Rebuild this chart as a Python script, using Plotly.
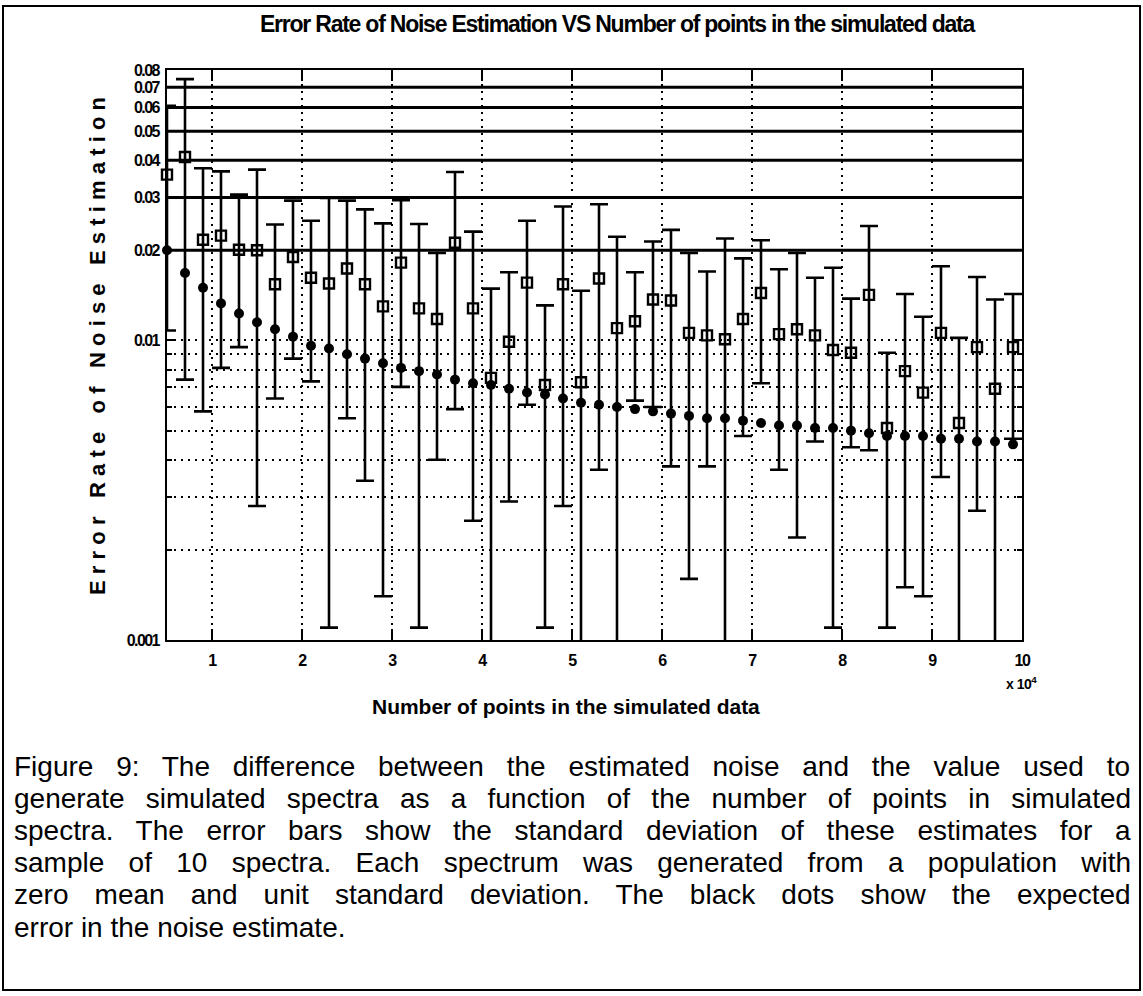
import math
import plotly.graph_objects as go

# ---------------- data ----------------
n_points = [5000, 7000, 9000, 11000, 13000, 15000, 17000, 19000, 21000, 23000,
            25000, 27000, 29000, 31000, 33000, 35000, 37000, 39000, 41000, 43000,
            45000, 47000, 49000, 51000, 53000, 55000, 57000, 59000, 61000, 63000,
            65000, 67000, 69000, 71000, 73000, 75000, 77000, 79000, 81000, 83000,
            85000, 87000, 89000, 91000, 93000, 95000, 97000, 99000]

mean_error = [0.0358, 0.0410, 0.0217, 0.0224, 0.0201, 0.0200, 0.0154, 0.0190, 0.0162, 0.0155,
              0.0174, 0.0154, 0.0130, 0.0182, 0.0128, 0.0118, 0.0212, 0.0128, 0.0075, 0.0099,
              0.0156, 0.0071, 0.0154, 0.00725, 0.0161, 0.0110, 0.0116, 0.0137, 0.0136, 0.0106,
              0.0104, 0.0101, 0.0118, 0.0144, 0.0105, 0.0109, 0.0104, 0.0093, 0.0091, 0.0142,
              0.0051, 0.0079, 0.0067, 0.0106, 0.0053, 0.0095, 0.0069, 0.0095]

std_error = [0.0250, 0.0336, 0.0159, 0.0143, 0.0106, 0.0172, 0.0090, 0.0103, 0.0089, 0.0144,
             0.0119, 0.0120, 0.0116, 0.0112, 0.0117, 0.0078, 0.0153, 0.0103, 0.0074, 0.0070,
             0.0095, 0.0060, 0.0126, 0.0074, 0.0124, 0.0112, 0.0053, 0.0077, 0.0098, 0.0090,
             0.0066, 0.0118, 0.0070, 0.0072, 0.0068, 0.0087, 0.0058, 0.0082, 0.0047, 0.0099,
             0.0040, 0.0064, 0.0053, 0.0071, 0.0049, 0.0068, 0.0068, 0.0048]

expected_error = [0.0200, 0.0168, 0.0150, 0.0133, 0.0123, 0.0115, 0.0109, 0.0103, 0.0096, 0.0094,
                  0.0090, 0.0087, 0.0084, 0.0081, 0.0079, 0.0077, 0.0074, 0.0072, 0.0071, 0.0069,
                  0.0067, 0.0066, 0.0064, 0.0062, 0.0061, 0.0060, 0.0059, 0.0058, 0.0057, 0.0056,
                  0.0055, 0.0055, 0.0054, 0.0053, 0.0052, 0.0052, 0.0051, 0.0051, 0.0050, 0.0049,
                  0.0048, 0.0048, 0.0048, 0.0047, 0.0047, 0.0046, 0.0046, 0.0045]

x_tick_vals = [10000, 20000, 30000, 40000, 50000, 60000, 70000, 80000, 90000, 100000]
x_tick_text = ["1", "2", "3", "4", "5", "6", "7", "8", "9", "10"]

y_tick_vals = [0.001, 0.01, 0.02, 0.03, 0.04, 0.05, 0.06, 0.07, 0.08]
y_tick_text = ["0.001", "0.01", "0.02", "0.03", "0.04", "0.05", "0.06", "0.07", "0.08"]
y_minor_vals = [0.002, 0.003, 0.004, 0.005, 0.006, 0.007, 0.008, 0.009]

solid_grid_vals = [0.02, 0.03, 0.04, 0.05, 0.06, 0.07]

title_text = "Error Rate of Noise Estimation VS Number of points in the simulated data"
x_title = "Number of points in the simulated data"
y_title = "Error Rate of Noise Estimation"
caption_lines = [
    "Figure 9: The difference between the estimated noise and the value used to",
    "generate simulated spectra as a function of the number of points in simulated",
    "spectra. The error bars show the standard deviation of these estimates for a",
    "sample of 10 spectra. Each spectrum was generated from a population with",
    "zero mean and unit standard deviation. The black dots show the expected",
    "error in the noise estimate.",
]

# ---------------- layout geometry ----------------
W, H = 1143, 996
ML, MR, MT, MB = 167, 121, 70, 356
PW = W - ML - MR
PH = H - MT - MB


def px(x):
    return (x - ML) / PW


def py(y):
    return (H - MB - y) / PH


ARIAL = "Liberation Sans, Arial, sans-serif"

# Arial / Liberation Sans advance widths (1/1000 em)
AW = {" ": 278, ".": 278, ",": 278, ":": 278, "-": 333}
AWB = {" ": 278, ".": 278, ",": 278, ":": 333, "-": 333}
for c in "0123456789":
    AW[c] = 556
    AWB[c] = 556
AW.update({"A": 667, "B": 667, "C": 722, "D": 722, "E": 667, "F": 611, "G": 778, "H": 722,
           "I": 278, "J": 500, "K": 667, "L": 556, "M": 833, "N": 722, "O": 778, "P": 667,
           "Q": 778, "R": 722, "S": 667, "T": 611, "U": 722, "V": 667, "W": 944, "X": 667,
           "Y": 667, "Z": 611,
           "a": 556, "b": 556, "c": 500, "d": 556, "e": 556, "f": 278, "g": 556, "h": 556,
           "i": 222, "j": 222, "k": 500, "l": 222, "m": 833, "n": 556, "o": 556, "p": 556,
           "q": 556, "r": 333, "s": 500, "t": 278, "u": 556, "v": 500, "w": 722, "x": 500,
           "y": 500, "z": 500})
AWB.update({"A": 722, "B": 722, "C": 722, "D": 722, "E": 667, "F": 611, "G": 778, "H": 722,
            "I": 278, "J": 556, "K": 722, "L": 611, "M": 833, "N": 722, "O": 778, "P": 667,
            "Q": 778, "R": 722, "S": 667, "T": 611, "U": 722, "V": 667, "W": 944, "X": 667,
            "Y": 667, "Z": 611,
            "a": 556, "b": 611, "c": 556, "d": 611, "e": 556, "f": 333, "g": 611, "h": 611,
            "i": 278, "j": 278, "k": 556, "l": 278, "m": 889, "n": 611, "o": 611, "p": 611,
            "q": 611, "r": 389, "s": 556, "t": 333, "u": 611, "v": 556, "w": 778, "x": 556,
            "y": 556, "z": 500})


def fit_bold(text, fs, target):
    """letter-spacing so that bold Liberation Sans text spans `target` px."""
    nat = sum(AWB.get(c, 600) for c in text) * fs / 1000
    ls = (target - nat) / max(len(text) - 1, 1)
    return '<span style="letter-spacing:%.2fpx">%s</span>' % (ls, text)


def squeeze(text, ls):
    return '<span style="letter-spacing:%.2fpx">%s</span>' % (ls, text)


CAP_FS = 28
CAP_LEFT = 12
CAP_RIGHT = 1129
CAP_Y0 = 766
CAP_DY = 32.2

fig = go.Figure()

# solid (scanned-looking) grid lines at 0.02 ... 0.07
gx, gy = [], []
for v in solid_grid_vals:
    gx += [n_points[0], x_tick_vals[-1], None]
    gy += [v, v, None]
fig.add_trace(go.Scatter(x=gx, y=gy, mode="lines", line=dict(color="black", width=3),
                         hoverinfo="skip", showlegend=False))

# error bars (clipped by the axes)
fig.add_trace(go.Scatter(
    x=n_points, y=mean_error, mode="markers",
    marker=dict(size=1, color="rgba(0,0,0,0)"),
    error_y=dict(type="data", array=std_error, symmetric=True,
                 color="black", thickness=2.6, width=9),
    showlegend=False))

# markers on an overlaying subplot so they are not clipped at the axes edge
fig.add_trace(go.Scatter(
    x=n_points, y=mean_error, mode="markers", xaxis="x2", yaxis="y2",
    marker=dict(symbol="square-open", size=10, color="black", line=dict(width=2.4, color="black")),
    cliponaxis=False, showlegend=False))
fig.add_trace(go.Scatter(
    x=n_points, y=expected_error, mode="markers", xaxis="x2", yaxis="y2",
    marker=dict(symbol="circle", size=10, color="black"),
    cliponaxis=False, showlegend=False))

xr = [n_points[0], x_tick_vals[-1]]
yr = [math.log10(y_tick_vals[0]), math.log10(y_tick_vals[-1])]

tick_font = dict(family=ARIAL, size=16, color="black", weight="bold")
dot_grid = dict(showgrid=True, gridcolor="black", gridwidth=1.6, griddash="2px,5px")

fig.update_layout(
    width=W, height=H,
    margin=dict(l=ML, r=MR, t=MT, b=MB, pad=0),
    paper_bgcolor="white", plot_bgcolor="white",
    showlegend=False,
    xaxis=dict(range=xr, tickvals=x_tick_vals, ticktext=[squeeze(t, -1.5) for t in x_tick_text],
               ticks="inside", ticklen=11, tickwidth=2, tickcolor="black",
               showline=True, linecolor="black", linewidth=2, mirror="ticks",
               zeroline=False, tickfont=tick_font, ticklabelstandoff=5, **dot_grid),
    yaxis=dict(type="log", range=yr, tickvals=y_tick_vals,
               ticktext=[squeeze(t, -1.6) for t in y_tick_text],
               ticks="inside", ticklen=7, tickwidth=2, tickcolor="black",
               showline=True, linecolor="black", linewidth=2, mirror="ticks",
               zeroline=False, tickfont=tick_font, ticklabelstandoff=3,
               minor=dict(tickvals=y_minor_vals, ticks="inside", ticklen=5, tickwidth=1.5,
                          tickcolor="black", **dot_grid),
               **dot_grid),
    xaxis2=dict(range=xr, overlaying="x", visible=False),
    yaxis2=dict(type="log", range=yr, overlaying="y", visible=False),
)

ann = []
ann.append(dict(text=fit_bold(title_text, 23, 715), x=px(617), y=py(24), xref="paper", yref="paper",
                xanchor="center", yanchor="middle", showarrow=False,
                font=dict(family=ARIAL, size=23, color="black", weight="bold")))
ann.append(dict(text=fit_bold(x_title, 21, 388), x=px(566), y=py(706), xref="paper", yref="paper",
                xanchor="center", yanchor="middle", showarrow=False,
                font=dict(family=ARIAL, size=21, color="black", weight="bold")))
ann.append(dict(text=squeeze("x 10", -0.5) + "<sup>4</sup>", x=px(1021), y=py(683),
                xref="paper", yref="paper",
                xanchor="center", yanchor="middle", showarrow=False,
                font=dict(family=ARIAL, size=14, color="black", weight="bold")))
# y axis title, spaced letters
ann.append(dict(text=fit_bold(y_title, 22, 498),
                x=px(97), y=py(343), xref="paper", yref="paper", textangle=-90,
                xanchor="center", yanchor="middle", showarrow=False,
                font=dict(family=ARIAL, size=22, color="black", weight="bold")))

# justified caption
for i, line in enumerate(caption_lines):
    y = CAP_Y0 + i * CAP_DY
    if i < len(caption_lines) - 1:
        nat = sum(AW.get(c, 556) for c in line) * CAP_FS / 1000
        nsp = line.count(" ")
        ws = (CAP_RIGHT - CAP_LEFT - nat) / nsp
        txt = '<span style="word-spacing:%.2fpx">%s</span>' % (ws, line)
    else:
        txt = line
    ann.append(dict(text=txt, x=px(CAP_LEFT), y=py(y), xref="paper", yref="paper",
                    xanchor="left", yanchor="middle", showarrow=False,
                    font=dict(family=ARIAL, size=CAP_FS, color="black")))

fig.update_layout(annotations=ann)

# outer frame of the figure
fig.add_shape(type="rect", xref="paper", yref="paper",
              x0=px(3), x1=px(1140), y0=py(990), y1=py(6),
              line=dict(color="black", width=2), fillcolor="rgba(0,0,0,0)")

fig.write_html("out.html")
